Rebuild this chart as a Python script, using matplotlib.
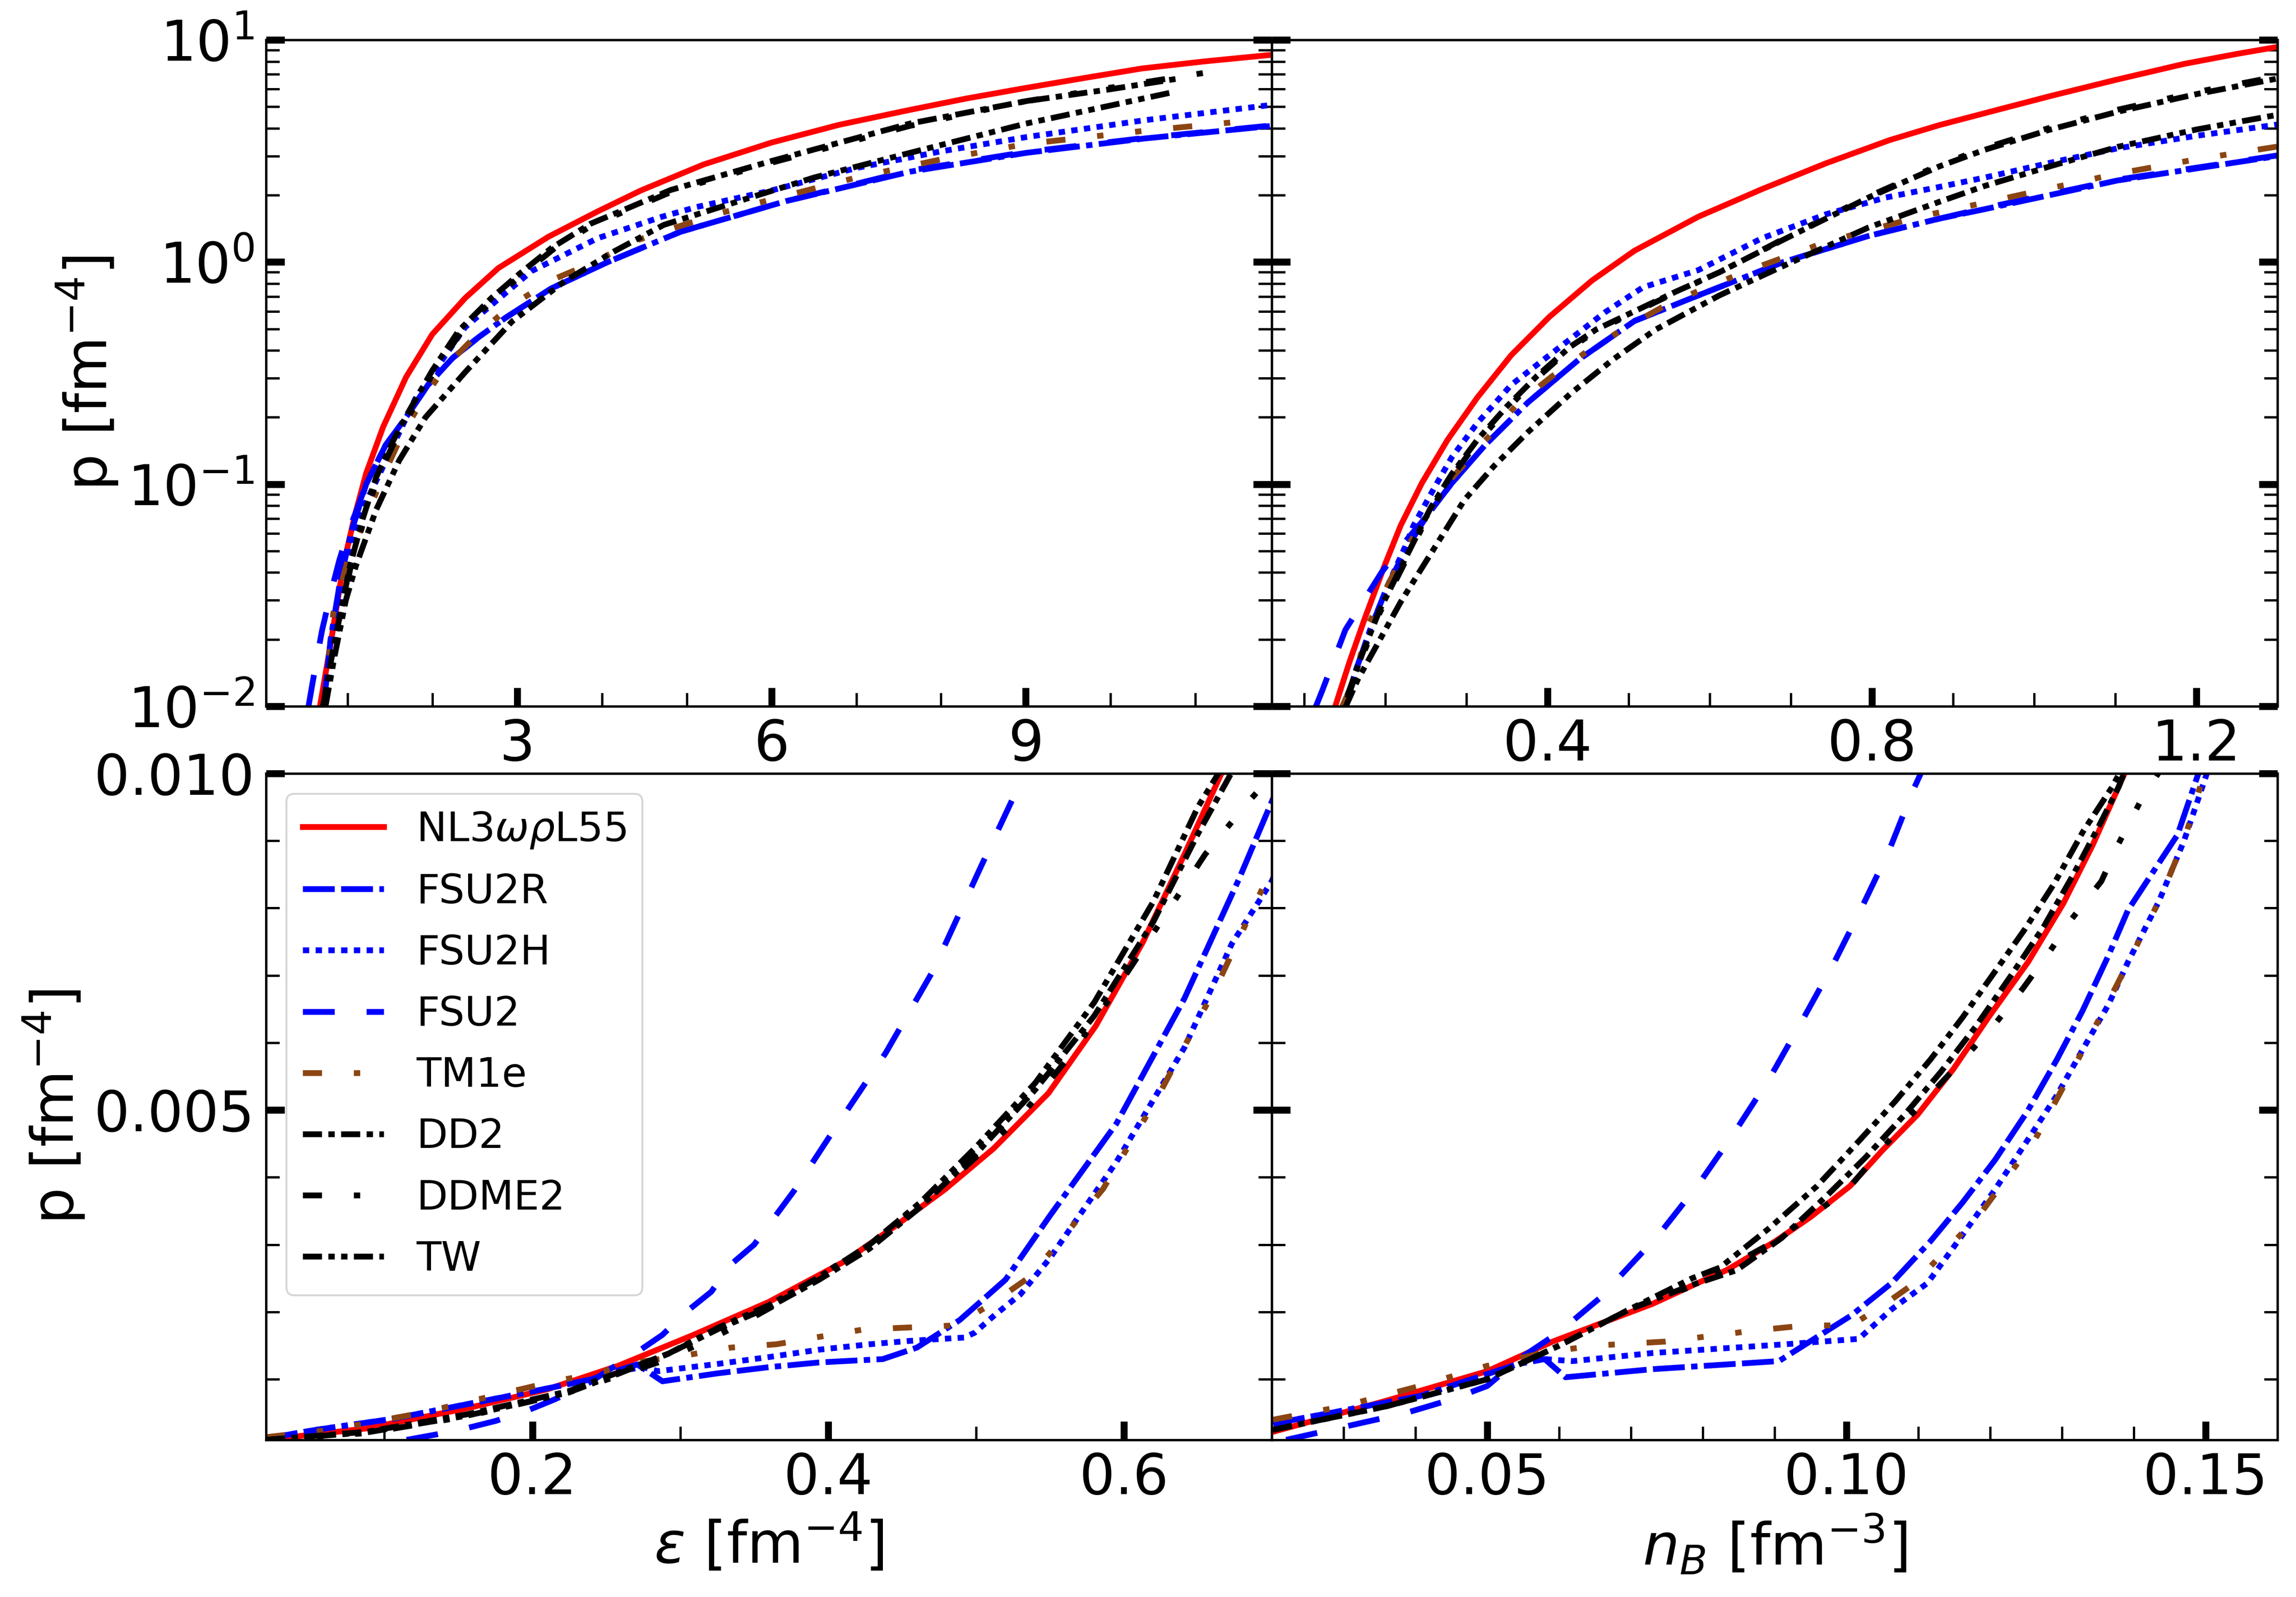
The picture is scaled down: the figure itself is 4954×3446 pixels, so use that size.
import matplotlib
matplotlib.use('Agg')
import matplotlib.pyplot as plt
from matplotlib.ticker import MultipleLocator, FormatStrFormatter

# ---------------- data ----------------
# legend names / colours
names = [r'NL3$\omega\rho$L55', 'FSU2R', 'FSU2H', 'FSU2', 'TM1e', 'DD2', 'DDME2', 'TW']
colors = ['red', 'blue', 'blue', 'blue', '#8B4513', 'black', 'black', 'black']

# top left: p vs energy density (log p)
eps_hi_nl3 = [0.675, 0.79, 0.95, 1.085, 1.22, 1.42, 1.69, 2.0, 2.39, 2.78, 3.37, 3.95, 4.46, 5.2, 6.0, 6.8, 7.63, 8.3, 9.0, 9.7, 10.37, 11.1, 11.9]
p_eps_hi_nl3 = [0.01, 0.018, 0.043, 0.072, 0.112, 0.181, 0.303, 0.473, 0.69, 0.94, 1.30, 1.69, 2.1, 2.75, 3.45, 4.15, 4.84, 5.45, 6.08, 6.75, 7.44, 8.0, 8.57]
eps_hi_fsu2r = [0.72, 0.80, 0.92, 1.05, 1.22, 1.45, 1.69, 1.95, 2.24, 2.55, 2.86, 3.4, 4.07, 4.93, 6.17, 7.63, 9.0, 10.4, 11.9]
p_eps_hi_fsu2r = [0.01, 0.02, 0.038, 0.062, 0.10, 0.15, 0.20, 0.28, 0.37, 0.46, 0.56, 0.76, 1.0, 1.37, 1.88, 2.55, 3.1, 3.6, 4.1]
eps_hi_fsu2h = [0.74, 0.79, 0.95, 1.14, 1.42, 1.81, 2.39, 3.17, 3.95, 4.71, 5.12, 6.0, 7.0, 8.0, 9.0, 10.4, 11.9]
p_eps_hi_fsu2h = [0.01, 0.014, 0.036, 0.072, 0.12, 0.247, 0.51, 0.91, 1.28, 1.6, 1.77, 2.1, 2.65, 3.15, 3.65, 4.35, 5.1]
eps_hi_fsu2 = [0.54, 0.62, 0.70, 0.80, 0.90, 1.0, 1.1, 1.22, 1.45, 1.69, 1.95, 2.24, 2.55, 2.86, 3.4, 4.07, 4.93, 6.17, 7.63, 9.0, 10.4, 11.9]
p_eps_hi_fsu2 = [0.01, 0.015, 0.022, 0.032, 0.045, 0.06, 0.075, 0.10, 0.15, 0.20, 0.28, 0.37, 0.46, 0.56, 0.76, 1.0, 1.37, 1.88, 2.58, 3.13, 3.62, 4.12]
eps_hi_tm1e = [0.73, 0.83, 1.0, 1.18, 1.4, 1.65, 1.88, 2.16, 2.55, 2.94, 3.41, 3.91, 4.38, 4.89, 5.4, 5.9, 7.0, 8.0, 9.0, 10.4, 11.7]
p_eps_hi_tm1e = [0.01, 0.026, 0.045, 0.065, 0.105, 0.169, 0.238, 0.34, 0.48, 0.64, 0.83, 1.0, 1.24, 1.44, 1.66, 1.87, 2.4, 2.9, 3.4, 3.9, 4.35]
eps_hi_dd2 = [0.71, 0.83, 1.03, 1.18, 1.34, 1.55, 1.73, 2.0, 2.31, 2.7, 3.02, 3.41, 3.87, 4.34, 4.81, 6.0, 7.63, 9.0, 10.0, 10.8]
p_eps_hi_dd2 = [0.01, 0.018, 0.043, 0.07, 0.108, 0.16, 0.215, 0.325, 0.49, 0.69, 0.88, 1.16, 1.49, 1.77, 2.11, 2.85, 4.2, 5.3, 6.0, 6.7]
eps_hi_ddme2 = [0.72, 0.84, 1.04, 1.2, 1.36, 1.57, 1.76, 2.03, 2.35, 2.74, 3.06, 3.45, 3.92, 4.4, 4.87, 6.0, 7.63, 9.0, 10.0, 11.2]
p_eps_hi_ddme2 = [0.01, 0.018, 0.043, 0.07, 0.108, 0.16, 0.215, 0.325, 0.49, 0.69, 0.88, 1.16, 1.49, 1.77, 2.11, 2.8, 4.1, 5.3, 6.1, 7.2]
eps_hi_tw = [0.74, 0.85, 0.98, 1.10, 1.34, 1.61, 1.92, 2.39, 2.94, 3.56, 4.15, 4.73, 5.71, 6.5, 7.63, 9.0, 10.7]
p_eps_hi_tw = [0.01, 0.017, 0.03, 0.043, 0.077, 0.128, 0.20, 0.32, 0.54, 0.82, 1.12, 1.47, 1.93, 2.4, 3.1, 4.2, 5.78]

# top right: p vs baryon density (log p)
nb_hi_nl3 = [0.1377, 0.156, 0.1744, 0.198, 0.219, 0.245, 0.2766, 0.3133, 0.3553, 0.4024, 0.4549, 0.5073, 0.586, 0.6645, 0.743, 0.8218, 0.8836, 0.96, 1.021, 1.1, 1.185, 1.25, 1.30]
p_nb_hi_nl3 = [0.00986, 0.0159, 0.0247, 0.042, 0.0652, 0.101, 0.158, 0.245, 0.381, 0.567, 0.826, 1.125, 1.60, 2.13, 2.78, 3.54, 4.14, 4.9, 5.6, 6.6, 7.8, 8.65, 9.3]
nb_hi_fsu2r = [0.1508, 0.1639, 0.1823, 0.2032, 0.2242, 0.2504, 0.2819, 0.3238, 0.3762, 0.4391, 0.5073, 0.586, 0.6907, 0.7956, 0.8836, 0.939, 1.103, 1.30]
p_nb_hi_fsu2r = [0.0099, 0.0146, 0.0226, 0.0351, 0.05, 0.0713, 0.101, 0.151, 0.234, 0.365, 0.543, 0.708, 1.0, 1.31, 1.57, 1.73, 2.33, 3.0]
nb_hi_fsu2h = [0.1508, 0.1639, 0.1823, 0.2032, 0.2242, 0.2347, 0.2609, 0.2819, 0.3133, 0.3553, 0.4024, 0.4706, 0.5178, 0.586, 0.6645, 0.7432, 0.8166, 0.8836, 0.939, 1.02, 1.103, 1.2, 1.30]
p_nb_hi_fsu2h = [0.0099, 0.0146, 0.0226, 0.0351, 0.052, 0.065, 0.097, 0.132, 0.188, 0.28, 0.381, 0.593, 0.77, 0.92, 1.28, 1.64, 1.95, 2.18, 2.4, 2.8, 3.25, 3.7, 4.16]
nb_hi_fsu2 = [0.114, 0.122, 0.1508, 0.1954, 0.2242, 0.2504, 0.2819, 0.3238, 0.3762, 0.4391, 0.5073, 0.586, 0.6907, 0.7956, 0.8836, 0.939, 1.103, 1.30]
p_nb_hi_fsu2 = [0.0099, 0.0117, 0.0221, 0.0401, 0.055, 0.0713, 0.101, 0.151, 0.234, 0.365, 0.543, 0.708, 1.0, 1.31, 1.57, 1.75, 2.35, 3.02]
nb_hi_tm1e = [0.147, 0.164, 0.1771, 0.2242, 0.27, 0.3238, 0.3631, 0.4051, 0.4496, 0.4968, 0.544, 0.5964, 0.6488, 0.7432, 0.8585, 0.939, 1.02, 1.103, 1.2, 1.30]
p_nb_hi_tm1e = [0.01, 0.0138, 0.0226, 0.05, 0.095, 0.158, 0.23, 0.305, 0.398, 0.508, 0.634, 0.77, 0.92, 1.23, 1.6, 1.85, 2.15, 2.5, 2.9, 3.31]
nb_hi_dd2 = [0.1534, 0.1718, 0.1928, 0.2137, 0.2347, 0.2557, 0.2819, 0.3133, 0.35, 0.3867, 0.4286, 0.46, 0.5597, 0.6121, 0.6907, 0.7956, 0.8836, 0.939, 1.02, 1.103, 1.2, 1.30]
p_nb_hi_dd2 = [0.0112, 0.0173, 0.027, 0.0384, 0.0547, 0.078, 0.111, 0.158, 0.224, 0.306, 0.417, 0.497, 0.74, 0.90, 1.26, 1.95, 2.7, 3.2, 3.95, 4.75, 5.7, 6.7]
nb_hi_ddme2 = [0.1534, 0.1718, 0.1928, 0.2137, 0.2347, 0.2557, 0.2819, 0.3133, 0.35, 0.3867, 0.4286, 0.46, 0.5597, 0.6121, 0.6907, 0.7956, 0.8836, 0.939, 1.02, 1.103, 1.2, 1.30]
p_nb_hi_ddme2 = [0.0109, 0.0168, 0.0262, 0.0373, 0.053, 0.076, 0.108, 0.154, 0.218, 0.3, 0.41, 0.49, 0.735, 0.9, 1.27, 1.97, 2.74, 3.26, 4.03, 4.85, 5.82, 6.85]
nb_hi_tw = [0.1508, 0.1665, 0.1928, 0.219, 0.2452, 0.2714, 0.2976, 0.3343, 0.3762, 0.4286, 0.4811, 0.5335, 0.6121, 0.6907, 0.7956, 0.8836, 0.939, 1.02, 1.103, 1.2, 1.30]
p_nb_hi_tw = [0.0099, 0.0133, 0.0198, 0.0295, 0.042, 0.0597, 0.085, 0.121, 0.172, 0.256, 0.365, 0.497, 0.708, 0.96, 1.43, 1.87, 2.2, 2.7, 3.3, 3.95, 4.6]

# bottom left: p vs energy density, low densities (linear)
eps_lo_nl3 = [0.02, 0.088, 0.156, 0.21, 0.258, 0.309, 0.36, 0.411, 0.445, 0.479, 0.512, 0.549, 0.581, 0.613, 0.641, 0.668]
p_eps_lo_nl3 = [0.0001, 0.00027, 0.00057, 0.00085, 0.0012, 0.00166, 0.00215, 0.00275, 0.00327, 0.00382, 0.00443, 0.00525, 0.00625, 0.0075, 0.0088, 0.0101]
eps_lo_fsu2r = [0.02, 0.054, 0.105, 0.156, 0.207, 0.24, 0.256, 0.271, 0.288, 0.326, 0.36, 0.394, 0.437, 0.46, 0.489, 0.52, 0.55, 0.595, 0.641, 0.678, 0.71]
p_eps_lo_fsu2r = [0.00012, 0.00025, 0.00041, 0.00063, 0.00085, 0.001, 0.00112, 0.00122, 0.00097, 0.00109, 0.00118, 0.00125, 0.0013, 0.00147, 0.00188, 0.00248, 0.00343, 0.0048, 0.00666, 0.00844, 0.0101]
eps_lo_fsu2h = [0.02, 0.054, 0.105, 0.156, 0.207, 0.24, 0.258, 0.275, 0.285, 0.326, 0.36, 0.394, 0.428, 0.455, 0.492, 0.499, 0.513, 0.53, 0.55, 0.595, 0.641, 0.673, 0.70, 0.71]
p_eps_lo_fsu2h = [0.00012, 0.00025, 0.00041, 0.00063, 0.00085, 0.001, 0.00112, 0.00118, 0.00112, 0.00123, 0.00133, 0.00144, 0.00152, 0.00157, 0.00162, 0.00169, 0.00196, 0.00226, 0.0028, 0.00423, 0.00593, 0.00747, 0.0084, 0.0089]
eps_lo_fsu2 = [0.115, 0.135, 0.155, 0.175, 0.195, 0.215, 0.235, 0.254, 0.27, 0.288, 0.304, 0.321, 0.334, 0.35, 0.377, 0.402, 0.439, 0.471, 0.503, 0.535]
p_eps_lo_fsu2 = [0.0001, 0.00018, 0.00027, 0.00038, 0.00052, 0.0007, 0.0009, 0.00117, 0.00139, 0.00166, 0.002, 0.0023, 0.0027, 0.003, 0.0038, 0.00464, 0.00585, 0.00707, 0.0086, 0.0101]
eps_lo_tm1e = [0.02, 0.064, 0.125, 0.186, 0.215, 0.244, 0.27, 0.305, 0.334, 0.365, 0.394, 0.424, 0.455, 0.486, 0.509, 0.535, 0.549, 0.586, 0.623, 0.664, 0.696, 0.71]
p_eps_lo_tm1e = [0.00014, 0.00025, 0.0005, 0.00082, 0.00097, 0.00109, 0.00125, 0.00136, 0.00147, 0.00152, 0.00163, 0.00174, 0.00177, 0.0018, 0.0021, 0.0025, 0.00285, 0.00383, 0.0052, 0.0069, 0.0084, 0.0091]
eps_lo_dd2 = [0.02, 0.088, 0.156, 0.224, 0.258, 0.292, 0.326, 0.36, 0.394, 0.428, 0.462, 0.50, 0.54, 0.58, 0.62, 0.65, 0.675]
p_eps_lo_dd2 = [0.0001, 0.00022, 0.00048, 0.00082, 0.0011, 0.00138, 0.00175, 0.00207, 0.00248, 0.00294, 0.00355, 0.00435, 0.0053, 0.0064, 0.0078, 0.0091, 0.0101]
eps_lo_ddme2 = [0.02, 0.088, 0.156, 0.224, 0.285, 0.319, 0.346, 0.377, 0.404, 0.428, 0.455, 0.49, 0.53, 0.567, 0.595, 0.625, 0.655, 0.685, 0.71]
p_eps_lo_ddme2 = [0.0001, 0.0002, 0.00045, 0.0008, 0.00125, 0.00158, 0.00188, 0.00226, 0.00267, 0.003, 0.00348, 0.0041, 0.0049, 0.0059, 0.0068, 0.0078, 0.0088, 0.0096, 0.0102]
eps_lo_tw = [0.02, 0.088, 0.156, 0.224, 0.258, 0.292, 0.326, 0.36, 0.394, 0.428, 0.462, 0.50, 0.54, 0.58, 0.62, 0.65, 0.675]
p_eps_lo_tw = [0.0001, 0.00021, 0.00046, 0.0008, 0.00108, 0.00138, 0.00177, 0.0021, 0.00252, 0.003, 0.00362, 0.00445, 0.0054, 0.0066, 0.0081, 0.0095, 0.0104]

# bottom right: p vs baryon density, low densities (linear)
nb_lo_nl3 = [0.0202, 0.0359, 0.05, 0.0591, 0.073, 0.0793, 0.0833, 0.0901, 0.095, 0.1005, 0.105, 0.1099, 0.1149, 0.1198, 0.1253, 0.1302, 0.1343, 0.1383, 0.14]
p_nb_lo_nl3 = [0.00022, 0.00068, 0.00112, 0.00156, 0.00212, 0.00243, 0.00262, 0.00305, 0.00341, 0.00387, 0.0044, 0.00493, 0.00561, 0.00638, 0.0072, 0.00807, 0.00894, 0.0099, 0.0103]
nb_lo_fsu2r = [0.0202, 0.0406, 0.0544, 0.058, 0.0609, 0.073, 0.0906, 0.1007, 0.1063, 0.1117, 0.1162, 0.1207, 0.1252, 0.1293, 0.1329, 0.1365, 0.1392, 0.1461, 0.149]
p_nb_lo_fsu2r = [0.00034, 0.00075, 0.00123, 0.0013, 0.00103, 0.00115, 0.00127, 0.00195, 0.00243, 0.00305, 0.00363, 0.00426, 0.00498, 0.00575, 0.00648, 0.0073, 0.00797, 0.00909, 0.010]
nb_lo_fsu2h = [0.0202, 0.0406, 0.0544, 0.058, 0.0619, 0.073, 0.0915, 0.1017, 0.1063, 0.1113, 0.1162, 0.1207, 0.1252, 0.1293, 0.1329, 0.1365, 0.1392, 0.1435, 0.147, 0.1505]
p_nb_lo_fsu2h = [0.00034, 0.00075, 0.00123, 0.0013, 0.00127, 0.00139, 0.00152, 0.0016, 0.00204, 0.00243, 0.00315, 0.00382, 0.00455, 0.00522, 0.0059, 0.00657, 0.0072, 0.0081, 0.0090, 0.0101]
nb_lo_fsu2 = [0.022, 0.0387, 0.045, 0.05, 0.0544, 0.06, 0.0656, 0.0739, 0.0795, 0.0845, 0.0894, 0.0938, 0.0981, 0.1021, 0.106, 0.1092, 0.1112]
p_nb_lo_fsu2 = [0.0001, 0.0005, 0.0007, 0.0009, 0.0013, 0.0017, 0.0022, 0.00315, 0.00391, 0.00468, 0.00549, 0.00632, 0.00715, 0.008, 0.00887, 0.00973, 0.0102]
nb_lo_tm1e = [0.0202, 0.03, 0.0406, 0.05, 0.058, 0.065, 0.0748, 0.0869, 0.0943, 0.1007, 0.1054, 0.1095, 0.1185, 0.1262, 0.132, 0.1379, 0.1435, 0.147, 0.1498]
p_nb_lo_tm1e = [0.0004, 0.0006, 0.0009, 0.0012, 0.0014, 0.0015, 0.00156, 0.00172, 0.0018, 0.0018, 0.00212, 0.00243, 0.00344, 0.00455, 0.0057, 0.00691, 0.0081, 0.0090, 0.0100]
nb_lo_dd2 = [0.0202, 0.036, 0.05, 0.06, 0.07, 0.0785, 0.0847, 0.091, 0.0973, 0.1027, 0.1081, 0.1131, 0.118, 0.123, 0.1275, 0.1316, 0.1352, 0.1379, 0.139]
p_nb_lo_dd2 = [0.00025, 0.0006, 0.001, 0.0015, 0.00205, 0.0024, 0.00262, 0.0031, 0.00373, 0.0043, 0.00493, 0.00556, 0.00624, 0.00701, 0.00773, 0.0085, 0.00923, 0.0098, 0.0101]
nb_lo_ddme2 = [0.0202, 0.036, 0.05, 0.06, 0.07, 0.079, 0.09, 0.1, 0.1086, 0.1129, 0.1171, 0.1207, 0.1246, 0.1284, 0.1313, 0.1355, 0.1379, 0.141, 0.144]
p_nb_lo_ddme2 = [0.00025, 0.0006, 0.001, 0.0015, 0.00205, 0.0024, 0.00305, 0.0038, 0.00488, 0.00537, 0.00585, 0.00628, 0.00681, 0.00737, 0.00783, 0.0084, 0.00896, 0.0096, 0.0101]
nb_lo_tw = [0.0202, 0.036, 0.05, 0.06, 0.07, 0.0785, 0.0824, 0.0892, 0.0959, 0.1014, 0.1068, 0.1117, 0.1162, 0.1207, 0.1248, 0.1289, 0.1329, 0.137, 0.1385]
p_nb_lo_tw = [0.00025, 0.0006, 0.001, 0.0015, 0.00205, 0.0025, 0.00266, 0.00324, 0.00387, 0.0045, 0.00513, 0.00575, 0.00638, 0.00706, 0.00768, 0.00836, 0.00913, 0.0098, 0.0101]

# dash patterns (in units of line width)
styles = ['-',
          (0, (5.5, 1.1, 5.5, 1.1, 1.1, 1.1)),
          (0, (1.1, 1.1)),
          (0, (5.5, 5.5)),
          (0, (3.3, 5.5, 1.1, 5.5, 1.1, 5.5)),
          (0, (3.3, 1.1, 1.1, 1.1)),
          (0, (3.3, 5.5, 1.1, 5.5, 1.1, 5.5)),
          (0, (3.3, 1.1, 1.1, 1.1, 1.1, 1.1))]

top_left = [(eps_hi_nl3, p_eps_hi_nl3), (eps_hi_fsu2r, p_eps_hi_fsu2r), (eps_hi_fsu2h, p_eps_hi_fsu2h),
            (eps_hi_fsu2, p_eps_hi_fsu2), (eps_hi_tm1e, p_eps_hi_tm1e), (eps_hi_dd2, p_eps_hi_dd2),
            (eps_hi_ddme2, p_eps_hi_ddme2), (eps_hi_tw, p_eps_hi_tw)]
top_right = [(nb_hi_nl3, p_nb_hi_nl3), (nb_hi_fsu2r, p_nb_hi_fsu2r), (nb_hi_fsu2h, p_nb_hi_fsu2h),
             (nb_hi_fsu2, p_nb_hi_fsu2), (nb_hi_tm1e, p_nb_hi_tm1e), (nb_hi_dd2, p_nb_hi_dd2),
             (nb_hi_ddme2, p_nb_hi_ddme2), (nb_hi_tw, p_nb_hi_tw)]
bot_left = [(eps_lo_nl3, p_eps_lo_nl3), (eps_lo_fsu2r, p_eps_lo_fsu2r), (eps_lo_fsu2h, p_eps_lo_fsu2h),
            (eps_lo_fsu2, p_eps_lo_fsu2), (eps_lo_tm1e, p_eps_lo_tm1e), (eps_lo_dd2, p_eps_lo_dd2),
            (eps_lo_ddme2, p_eps_lo_ddme2), (eps_lo_tw, p_eps_lo_tw)]
bot_right = [(nb_lo_nl3, p_nb_lo_nl3), (nb_lo_fsu2r, p_nb_lo_fsu2r), (nb_lo_fsu2h, p_nb_lo_fsu2h),
             (nb_lo_fsu2, p_nb_lo_fsu2), (nb_lo_tm1e, p_nb_lo_tm1e), (nb_lo_dd2, p_nb_lo_dd2),
             (nb_lo_ddme2, p_nb_lo_ddme2), (nb_lo_tw, p_nb_lo_tw)]

lw = 3

fig, axs = plt.subplots(2, 2, figsize=(4954 / 300, 3446 / 300), dpi=300)
fig.subplots_adjust(left=0.1159, right=0.9919, top=0.975, bottom=0.0984,
                    wspace=0, hspace=0.1008)

panels = [top_left, top_right, bot_left, bot_right]
for ax, panel in zip(axs.flat, panels):
    for (x, y), name, c, ls in zip(panel, names, colors, styles):
        ax.plot(x, y, color=c, linestyle=ls, lw=lw, label=name)

for ax in axs[0]:
    ax.set_yscale('log')
    ax.set_ylim(1e-2, 1e1)
for ax in axs[1]:
    ax.set_ylim(0.0001, 0.010)
    ax.yaxis.set_major_locator(MultipleLocator(0.005))
    ax.yaxis.set_minor_locator(MultipleLocator(0.001))
    ax.yaxis.set_major_formatter(FormatStrFormatter('%.3f'))

axs[0, 0].set_xlim(0.04, 11.9)
axs[0, 0].xaxis.set_major_locator(MultipleLocator(3))
axs[0, 0].xaxis.set_minor_locator(MultipleLocator(1))
axs[0, 1].set_xlim(0.06, 1.3)
axs[0, 1].xaxis.set_major_locator(MultipleLocator(0.4))
axs[0, 1].xaxis.set_minor_locator(MultipleLocator(0.1))
axs[1, 0].set_xlim(0.02, 0.70)
axs[1, 0].xaxis.set_major_locator(MultipleLocator(0.2))
axs[1, 0].xaxis.set_minor_locator(MultipleLocator(0.1))
axs[1, 1].set_xlim(0.02, 0.16)
axs[1, 1].xaxis.set_major_locator(MultipleLocator(0.05))
axs[1, 1].xaxis.set_minor_locator(MultipleLocator(0.01))
axs[1, 1].xaxis.set_major_formatter(FormatStrFormatter('%.2f'))

for ax in axs.flat:
    ax.tick_params(which='both', direction='in', left=True, right=True,
                   top=False, bottom=True, labelsize=29, pad=6)
    ax.tick_params(which='major', length=9.5, width=3.6)
    ax.tick_params(which='minor', length=7, width=1.2)
    for s in ax.spines.values():
        s.set_linewidth(1.25)
for ax in axs[:, 1]:
    ax.tick_params(which='both', labelleft=False)

axs[0, 0].set_ylabel(r'p [fm$^{-4}$]', fontsize=30)
axs[1, 0].set_ylabel(r'p [fm$^{-4}$]', fontsize=30)
axs[1, 0].set_xlabel(r'$\varepsilon$ [fm$^{-4}$]', fontsize=30)
axs[1, 1].set_xlabel(r'$n_B$ [fm$^{-3}$]', fontsize=30)

axs[1, 0].legend(loc='upper left', fontsize=21, labelspacing=0.55)

fig.savefig('out.png', dpi=300)
